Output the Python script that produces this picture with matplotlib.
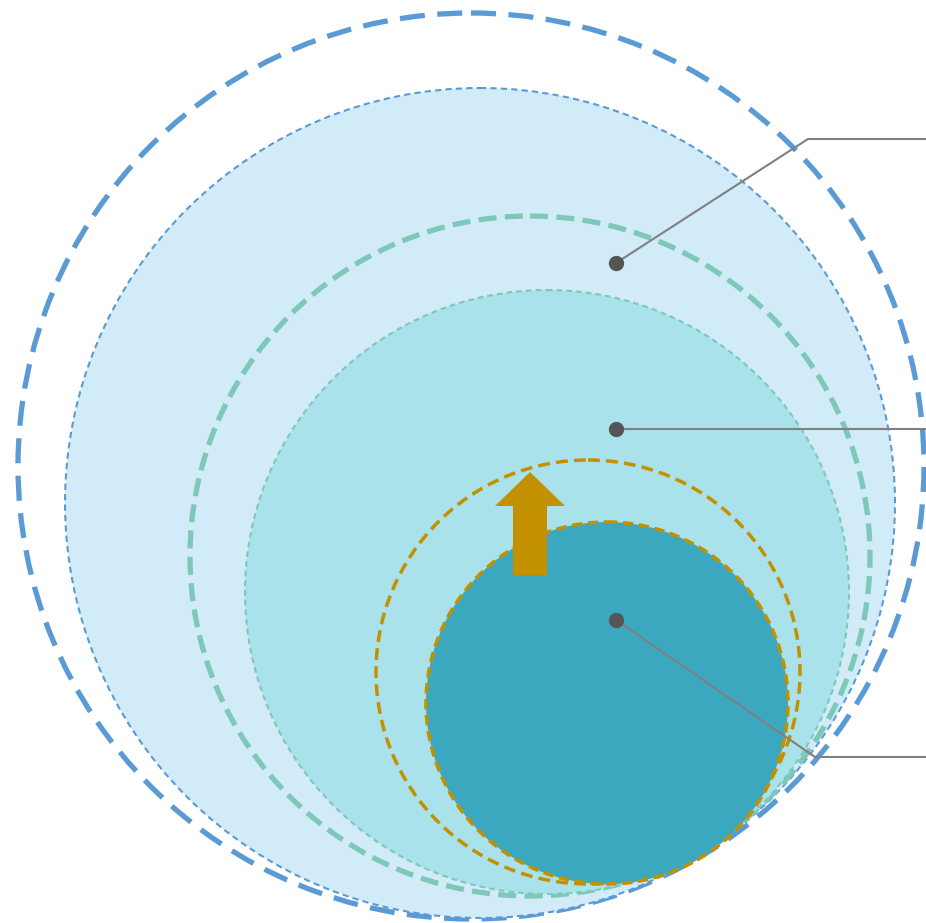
import matplotlib.pyplot as plt
from matplotlib.patches import Circle, FancyArrow

plt.rcParams['lines.scale_dashes'] = False

# circle layout (pixel units): outer ring, filled disc for each market level
cx = [471, 480, 530, 547, 588, 607]
cy = [466, 503, 556, 592, 672, 703]
radius = [453, 415, 340, 302, 212, 181]
fills = ['none', '#d1ebf9', 'none', '#a9e2ea', 'none', '#3ca8bf']
edges = ['#5b9bd5', '#5b9bd5', '#7ec8b8', '#7ec8b8', '#c39100', '#c39100']
widths = [3.8, 1.5, 3.8, 1.5, 2.5, 2.5]
dashes = [(18, 9), (4.5, 3), (13, 6), (4, 3), (8.5, 4.5), (7.5, 4)]

# callout dots and leader lines
dot_x = [616, 616, 616]
dot_y = [263, 429, 620]
elbow_x = [808, 926, 815]
elbow_y = [139, 429, 757]

fig = plt.figure(figsize=(9.26, 9.23), dpi=100)
ax = fig.add_axes([0, 0, 1, 1])
ax.set_xlim(0, 926)
ax.set_ylim(923, 0)
ax.set_aspect('equal')
ax.axis('off')

for i in range(len(radius)):
    if fills[i] != 'none':
        ax.add_patch(Circle((cx[i], cy[i]), radius[i], facecolor=fills[i],
                            edgecolor='none', zorder=i * 2))
    c = Circle((cx[i], cy[i]), radius[i], facecolor='none', edgecolor=edges[i],
               linewidth=widths[i], zorder=i * 2 + 1)
    c.set_linestyle((0, dashes[i]))
    ax.add_patch(c)

ax.add_patch(FancyArrow(530, 575, 0, -103, width=34, head_width=70,
                        head_length=34, length_includes_head=True,
                        color='#c39100', linewidth=0, zorder=20))

for i in range(3):
    ax.plot([dot_x[i], elbow_x[i], 926], [dot_y[i], elbow_y[i], elbow_y[i]],
            color='#808080', linewidth=1.5, zorder=21, solid_capstyle='butt')
    ax.plot(dot_x[i], dot_y[i], 'o', color='#555555', markersize=10, zorder=22)

fig.savefig('out.png', dpi=100)
